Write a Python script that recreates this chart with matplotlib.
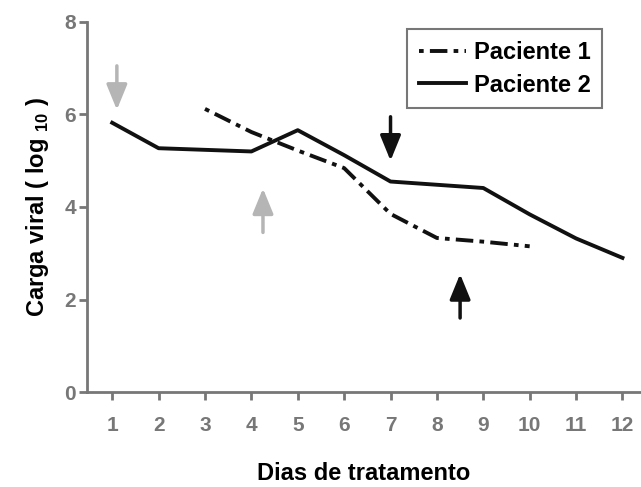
import matplotlib
matplotlib.use("Agg")
import matplotlib.pyplot as plt

plt.rcParams['font.family'] = ['Liberation Sans', 'DejaVu Sans']
plt.rcParams['mathtext.fontset'] = 'custom'
plt.rcParams['mathtext.rm'] = 'Liberation Sans'
plt.rcParams['mathtext.bf'] = 'Liberation Sans:bold'

# dados
dias = [1, 2, 3, 4, 5, 6, 7, 8, 9, 10, 11, 12]
dias_p1 = [3, 4, 5, 6, 7, 8, 9, 10]
carga_p1 = [6.12, 5.62, 5.22, 4.84, 3.85, 3.33, 3.25, 3.15]
dias_p2 = [1, 2, 4, 5, 6, 7, 9, 10, 11, 12]
carga_p2 = [5.82, 5.27, 5.2, 5.66, 5.12, 4.55, 4.41, 3.84, 3.32, 2.9]

# setas: (x, y inicio, y fim, cor)
setas = [(1.1, 7.05, 6.1, '#b5b5b5'),
         (4.25, 3.45, 4.4, '#b5b5b5'),
         (7.0, 5.95, 5.0, '#111111'),
         (8.5, 1.6, 2.55, '#111111')]

fig = plt.figure(figsize=(6.41, 4.87), dpi=100)
ax = fig.add_axes([0.136, 0.195, 0.864, 0.76])

ax.plot(dias_p1, carga_p1, color='#111111', lw=2.8,
        linestyle=(0, (1.2, 1.6, 4.5, 1.6)), label='Paciente 1')
ax.plot(dias_p2, carga_p2, color='#111111', lw=2.8, label='Paciente 2')

for x, y0, y1, c in setas:
    ax.annotate('', xy=(x, y1), xytext=(x, y0),
                arrowprops=dict(arrowstyle='-|>,head_width=0.45,head_length=1.1',
                                color=c, lw=2.5, shrinkA=0, shrinkB=0,
                                mutation_scale=14))

ax.set_xlim(0.46, 12.4)
ax.set_ylim(0, 8)
ax.set_xticks(dias)
ax.set_yticks([0, 2, 4, 6, 8])

for s in ['top', 'right']:
    ax.spines[s].set_visible(False)
for s in ['left', 'bottom']:
    ax.spines[s].set_color('#777777')
    ax.spines[s].set_linewidth(2)

ax.tick_params(axis='x', colors='#777777', width=2, length=6, pad=11,
               labelsize=15)
ax.tick_params(axis='y', colors='#777777', width=2, length=6, pad=2,
               labelsize=15)
for t in ax.get_xticklabels() + ax.get_yticklabels():
    t.set_fontweight('bold')

ax.set_ylabel(r'Carga viral ( log $_{\mathbf{10}}$ )', fontsize=17,
              fontweight='bold', labelpad=10)
ax.set_xlabel('Dias de tratamento', fontsize=17, fontweight='bold',
              labelpad=20)

leg = ax.legend(loc='upper right', bbox_to_anchor=(0.93, 0.98),
                prop={'weight': 'bold', 'size': 17},
                frameon=True, fancybox=False, handlelength=2.0,
                handletextpad=0.3, borderpad=0.5, labelspacing=0.4,
                borderaxespad=0)
leg.get_frame().set_edgecolor('#555555')
leg.get_frame().set_linewidth(1.5)

fig.savefig('out.png', dpi=100)
